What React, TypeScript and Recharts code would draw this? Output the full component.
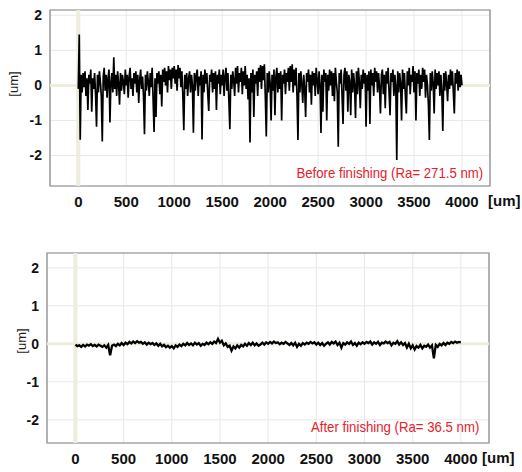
import {
	CartesianGrid,
	Label,
	Line,
	LineChart,
	ReferenceArea,
	ReferenceLine,
	XAxis,
	YAxis,
} from "recharts";

const xTicks = [0, 500, 1000, 1500, 2000, 2500, 3000, 3500, 4000];
const yTicks = [-2, -1, 0, 1, 2];

// surface profile before finishing, one reading every 10 um
const beforeStepUm = 10;
const beforeProfile = [
	-0.1, 1.45, -1.55, 0.3, -0.2, 0.35, -0.05, 0.4, -0.3, 0.2,
	-0.7, 0.3, 0.05, 0.45, -0.75, 0.2, -0.1, 0.35, -0.25, -1.18,
	0.3, -0.2, 0.4, 0.1, -0.3, -1.6, 0.25, 0.5, -0.15, 0.3,
	-0.35, 0.2, 0.45, -1.06, 0.1, 0.35, -0.2, 0.8, -0.1, 0.3,
	-0.3, 0.4, 0.05, -0.55, 0.35, -0.15, 0.3, 0.1, -0.25, 0.45,
	0.0, 0.3, -0.35, 0.25, 0.5, -0.1, 0.2, -0.3, 0.35, 0.05,
	0.4, -0.2, 0.3, -0.5, 0.15, 0.45, -0.1, 0.25, -0.3, -1.39,
	0.3, -0.15, 0.4, 0.1, -0.3, 0.35, -0.05, 0.5, -0.4, -1.33,
	0.2, -0.9, 0.35, 0.05, 0.4, -0.25, 0.3, -0.6, 0.45, 0.1,
	0.5, 0.0, 0.4, -0.2, 0.55, 0.15, 0.45, -0.1, 0.5, 0.2,
	0.55, 0.05, 0.45, -0.15, 0.58, 0.2, 0.5, -0.05, 0.4, -0.3,
	-1.28, 0.3, -0.1, 0.35, -0.3, 0.2, 0.4, -0.2, 0.3, 0.0,
	-1.35, 0.35, -0.15, 0.3, 0.45, -0.3, 0.25, 0.0, 0.4, -1.54,
	0.3, -0.2, 0.45, 0.05, 0.35, -0.25, -0.73, 0.3, 0.1, 0.45,
	-0.2, 0.35, -0.1, 0.4, -0.7, 0.3, 0.05, 0.45, -0.25, 0.3,
	0.0, 0.45, -0.3, 0.25, 0.5, -0.15, 0.35, -0.45, -1.25, 0.3,
	-0.1, 0.4, 0.15, -0.3, 0.5, 0.05, 0.55, -0.2, 0.35, 0.1,
	0.5, -0.25, 0.4, 0.0, 0.55, -0.1, 0.3, -0.4, 0.2, -1.63,
	0.35, -0.2, 0.45, -0.9, 0.3, 0.05, 0.4, -0.3, 0.5, 0.1,
	0.58, -0.1, 0.55, 0.15, 0.6, -0.35, -1.46, 0.35, -0.2, 0.4,
	0.05, -1.0, 0.3, -0.15, 0.45, -0.85, 0.25, 0.5, -0.2, 0.35,
	-0.1, 0.4, -1.0, 0.3, 0.05, 0.45, -0.25, 0.35, 0.1, 0.5,
	-0.15, 0.55, 0.1, 0.6, -0.2, 0.45, 0.0, 0.5, -0.3, -1.56,
	0.35, -0.2, 0.4, 0.05, -0.5, 0.3, -0.1, -0.9, 0.35, 0.1,
	0.45, -0.2, 0.3, -0.55, 0.4, 0.0, 0.35, -0.3, 0.5, 0.15,
	-0.25, 0.4, 0.05, -1.36, 0.3, -0.75, 0.45, 0.1, 0.35, -1.0,
	0.3, -0.15, 0.45, 0.0, 0.4, -0.3, 0.35, -0.45, 0.5, 0.1,
	-0.2, -1.75, 0.35, 0.05, 0.45, -0.3, -1.1, 0.3, 0.5, -0.15,
	0.4, -0.75, 0.3, 0.1, -0.85, 0.45, -0.2, 0.35, 0.0, -0.93,
	0.4, -0.25, 0.5, 0.1, -0.65, 0.3, -0.1, 0.45, 0.05, 0.35,
	-1.18, 0.3, -0.15, 0.4, -1.1, 0.45, 0.0, 0.35, -0.3, 0.5,
	0.1, 0.4, -0.2, 0.35, -0.05, -0.8, 0.3, 0.45, -0.25, 0.3,
	-0.65, 0.4, 0.05, 0.5, -0.2, -0.85, 0.35, 0.1, 0.45, -0.3,
	0.3, 0.0, -2.13, 0.4, -0.2, 0.35, 0.05, -1.0, 0.45, -0.1,
	0.35, -0.3, -0.8, 0.4, 0.0, 0.5, -0.25, 0.3, 0.1, 0.55,
	-0.2, 0.4, -1.0, 0.35, 0.05, 0.45, -0.3, 0.3, -0.1, 0.5,
	0.1, 0.45, -0.35, 0.3, 0.0, -0.55, -1.56, 0.35, -0.15, 0.4,
	0.05, -0.8, 0.45, -0.1, 0.35, 0.0, 0.4, -0.3, 0.3, -0.2,
	-1.3, 0.35, -0.15, 0.4, 0.05, -0.45, 0.3, -0.1, 0.45, 0.0,
	0.4, -0.2, -0.8, 0.35, 0.05, 0.45, -0.15, 0.4, -0.05, 0.3,
	0.0,
];

// surface profile after finishing, one reading every 20 um
const afterStepUm = 20;
const afterProfile = [
	-0.02, -0.06, -0.04, -0.08, -0.03, -0.07, -0.02, -0.05, -0.01, -0.06,
	-0.03, -0.07, -0.02, -0.05, -0.08, -0.04, -0.1, -0.03, -0.3, -0.05,
	-0.02, -0.06, 0.0, -0.04, 0.02, -0.03, 0.03, -0.01, 0.05, 0.01,
	0.06, 0.02, 0.07, 0.03, 0.05, 0.0, 0.04, -0.02, 0.03, -0.01,
	0.02, -0.03, 0.01, -0.05, 0.0, -0.07, -0.03, -0.09, -0.05, -0.1,
	-0.06, -0.12, -0.04, -0.08, -0.02, -0.06, 0.0, -0.04, 0.02, -0.03,
	0.01, -0.04, 0.03, -0.02, 0.02, -0.05, 0.0, -0.03, 0.03, -0.01,
	0.04, 0.0, 0.06, 0.02, 0.13, 0.03, 0.08, -0.04, 0.01, -0.08,
	-0.05, -0.18, -0.07, -0.12, -0.04, -0.1, -0.03, -0.07, 0.0, -0.05,
	0.02, -0.03, 0.03, -0.04, 0.01, -0.05, -0.02, 0.03, -0.02, 0.04,
	0.0, 0.05, 0.01, 0.06, 0.02, 0.04, -0.01, 0.03, 0.0, 0.05,
	0.01, -0.03, 0.02, -0.04, 0.03, -0.08, 0.0, -0.05, 0.02, -0.02,
	0.03, 0.0, 0.05, 0.01, 0.04, -0.02, 0.03, -0.03, 0.02, -0.05,
	0.0, 0.04, -0.02, 0.05, 0.01, 0.06, -0.03, 0.03, -0.1, 0.02,
	-0.02, 0.04, 0.0, 0.06, -0.03, 0.02, -0.05, 0.03, -0.01, 0.04,
	0.0, 0.05, 0.02, 0.06, -0.02, 0.04, 0.0, 0.05, -0.03, 0.03,
	0.01, 0.06, 0.02, 0.05, -0.04, 0.03, 0.0, 0.07, -0.02, 0.04,
	-0.03, 0.02, -0.1, 0.0, -0.12, -0.04, -0.15, -0.06, -0.1, -0.03,
	-0.12, -0.05, -0.08, -0.02, -0.1, -0.04, -0.38, -0.03, -0.08, 0.0,
	-0.04, 0.02, -0.03, 0.03, 0.0, 0.05, 0.02, 0.06, 0.03, 0.05,
	0.04,
];

const beforeTitle = "Before finishing (Ra= 271.5 nm)";
const afterTitle = "After finishing (Ra= 36.5 nm)";

const xDomain: [number, number] = [-295, 4292];

const font = "'Liberation Sans', Arial, sans-serif";

function toRows(values: number[], step: number) {
	return values.map((h, i) => ({ pos: i * step, h }));
}

type ProfileProps = {
	values: number[];
	step: number;
	height: number;
	top: number;
	right: number;
	yWidth: number;
	yDomain: [number, number];
	stroke: number;
	unitDx: number;
	unitDy: number;
	umOffset: number;
};

const ProfileChart = (p: ProfileProps) => {
	const rows = toRows(p.values, p.step);
	return (
		<LineChart
			width={522}
			height={p.height}
			data={rows}
			margin={{ top: p.top, right: p.right, bottom: 0, left: 0 }}
			style={{ fontFamily: font }}
		>
			<CartesianGrid stroke='#e8e8e8' strokeWidth={1} />
			<ReferenceArea
				x1={xDomain[0]}
				x2={xDomain[1]}
				y1={p.yDomain[0]}
				y2={p.yDomain[1]}
				fill='none'
				stroke='#858585'
				strokeWidth={1.2}
				fillOpacity={0}
			/>
			<ReferenceLine x={0} stroke='#eeecdc' strokeWidth={4} />
			<ReferenceLine y={0} stroke='#eeecdc' strokeWidth={3} />
			<XAxis
				dataKey='pos'
				type='number'
				domain={xDomain}
				allowDataOverflow
				ticks={xTicks}
				height={29}
				axisLine={false}
				tickLine={false}
				tickSize={0}
				tickMargin={10}
				tick={{ fontSize: 15, fontWeight: "bold", fill: "#111" }}
			>
				<Label
					value='[um]'
					position='right'
					offset={p.umOffset}
					style={{ fontSize: 15, fontWeight: "bold", fill: "#111" }}
				/>
			</XAxis>
			<YAxis
				type='number'
				domain={p.yDomain}
				allowDataOverflow
				ticks={yTicks}
				width={p.yWidth}
				axisLine={false}
				tickLine={false}
				tickSize={0}
				tickMargin={8}
				tick={{ fontSize: 14, fontWeight: "bold", fill: "#111" }}
			>
				<Label
					value='[um]'
					angle={-90}
					position='center'
					dx={p.unitDx}
					dy={p.unitDy}
					style={{ fontSize: 13, fill: "#222" }}
				/>
			</YAxis>
			<Line
				type='linear'
				dataKey='h'
				stroke='#000000'
				strokeWidth={p.stroke}
				dot={false}
				isAnimationActive={false}
			/>
		</LineChart>
	);
};

const noteStyle = {
	position: "absolute" as const,
	fontFamily: font,
	fontSize: 15,
	lineHeight: "18px",
	color: "#e8202b",
	whiteSpace: "nowrap" as const,
	transform: "scaleX(0.88)",
	transformOrigin: "right center",
};

export default function App() {
	return (
		<div
			style={{
				position: "absolute",
				left: 0,
				top: 0,
				width: 522,
				height: 472,
				background: "#fff",
			}}
		>
			<div style={{ position: "absolute", left: 0, top: 0 }}>
				<ProfileChart
					values={beforeProfile}
					step={beforeStepUm}
					height={215}
					top={10}
					right={32}
					yWidth={50}
					yDomain={[-2.87, 2.15]}
					stroke={1.7}
					unitDx={-12}
					unitDy={-14}
					umOffset={-2}
				/>
			</div>
			<div style={{ position: "absolute", left: 0, top: 240 }}>
				<ProfileChart
					values={afterProfile}
					step={afterStepUm}
					height={232}
					top={13}
					right={33}
					yWidth={47}
					yDomain={[-2.61, 2.39]}
					stroke={2.3}
					unitDx={-2}
					unitDy={-7}
					umOffset={-7}
				/>
			</div>
			<div style={{ ...noteStyle, right: 39, top: 164 }}>{beforeTitle}</div>
			<div style={{ ...noteStyle, right: 43, top: 418 }}>{afterTitle}</div>
		</div>
	);
}
